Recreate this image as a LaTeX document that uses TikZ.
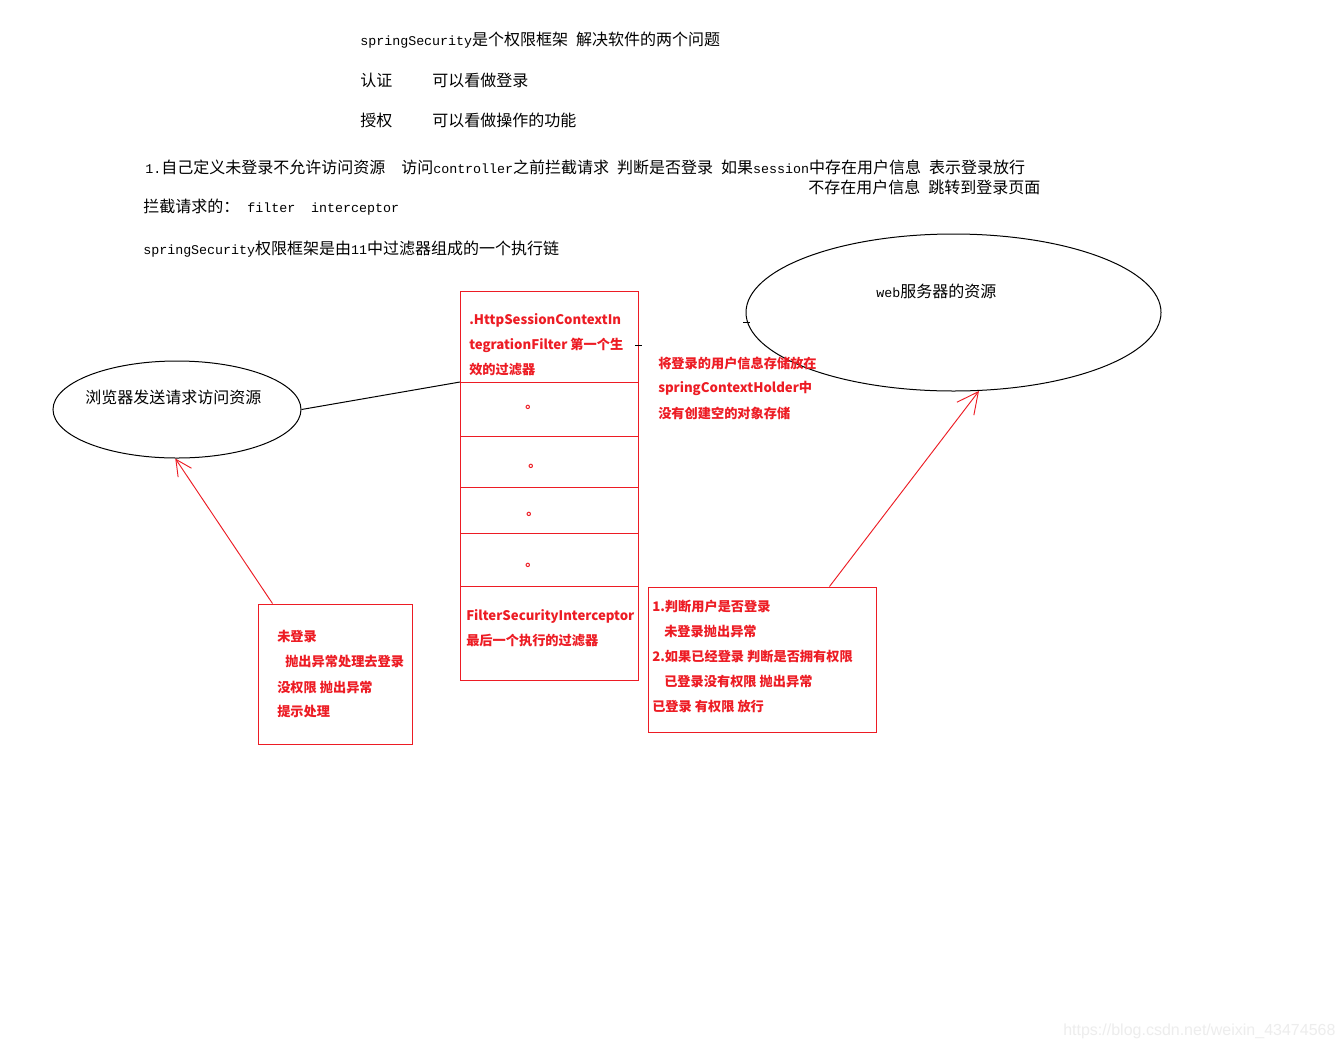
\documentclass[tikz,border=0pt]{standalone}
\usepackage{fontspec}
\setmainfont{Noto Sans CJK SC}
\newfontfamily\monolat[Scale=0.833]{Liberation Mono}
\newfontfamily\wmark{Liberation Sans}
\usetikzlibrary{shapes.geometric,positioning,arrows.meta}
\definecolor{pred}{HTML}{ED1C24}
\newcommand{\mtt}[1]{{\monolat #1}}
\tikzset{
  txt/.style={anchor=west,inner sep=0pt,font=\fontsize{12pt}{14pt}\selectfont},
  redtxt/.style={anchor=west,inner sep=0pt,text=pred,font=\fontsize{9.9pt}{12pt}\selectfont\bfseries},
  bubble/.style={draw,ellipse,inner sep=0pt,line width=0.75pt},
  filterbox/.style={draw=pred,line width=0.75pt,minimum width=133.5pt,minimum height=#1,inner sep=0pt,outer sep=0pt},
  notebox/.style={draw=pred,line width=0.75pt,inner sep=0pt},
  redarrow/.style={draw=pred,line width=0.7pt,-{Straight Barb[length=#1,width=#1]}},
}

\begin{document}
\begin{tikzpicture}[x=0.75pt,y=-0.75pt]
    \fill[white] (0,0) rectangle (1344,1050);
    \useasboundingbox (0,0) rectangle (1344,1050);
    % notes at the top
    \node[txt] (title) at (360,40) {\mtt{springSecurity}是个权限框架\mtt{~}解决软件的两个问题};
    \node[txt] (authn) at (360,80) {认证};
    \node[txt] (authnd) at (432,80) {可以看做登录};
    \node[txt] (authz) at (360,120) {授权};
    \node[txt] (authzd) at (432,120) {可以看做操作的功能};
    \node[txt] (rule) at (145,167) {\mtt{1.}自己定义未登录不允许访问资源\mtt{~~}访问\mtt{controller}之前拦截请求\mtt{~}判断是否登录\mtt{~}如果\mtt{session}中存在用户信息\mtt{~}表示登录放行};
    \node[txt] (rulenext) at (808,187) {不存在用户信息\mtt{~}跳转到登录页面};
    \node[txt] (intercept) at (143,207) {拦截请求的：\mtt{~filter~~interceptor}};
    \node[txt] (chaininfo) at (143,249) {\mtt{springSecurity}权限框架是由\mtt{11}中过滤器组成的一个执行链};
    % browser and server
    \node[bubble,minimum width=186pt,minimum height=72.75pt] (browser) at (177,409.5) {};
    \node[txt] (browsertxt) at (85,397) {浏览器发送请求访问资源};
    \node[bubble,minimum width=311.25pt,minimum height=117.75pt] (web) at (953.5,312.5) {};
    \node[txt] (webtxt) at (876,291) {\mtt{web}服务器的资源};
    % filter chain
    \node[filterbox=68.25pt,anchor=north] (f1) at (549,291) {};
    \node[filterbox=40.5pt,below=0pt of f1] (f2) {};
    \node[filterbox=38.25pt,below=0pt of f2] (f3) {};
    \node[filterbox=34.5pt,below=0pt of f3] (f4) {};
    \node[filterbox=39.75pt,below=0pt of f4] (f5) {};
    \node[filterbox=70.5pt,below=0pt of f5] (f6) {};
    \foreach \txt [count=\i from 0] in {.HttpSessionContextIn, tegrationFilter 第一个生, 效的过滤器}
        \node[redtxt] (f1t\i) at (469,320+25*\i) {\txt};
    \foreach \x/\y [count=\i] in {528/411, 531/470, 529/518, 528/569}
        \node[redtxt,anchor=center] (dot\i) at (\x+4,\y-4) {。};
    \foreach \txt [count=\i from 0] in {FilterSecurityInterceptor, 最后一个执行的过滤器}
        \node[redtxt] (f6t\i) at (466,616+25*\i) {\txt};
    \foreach \txt [count=\i from 0] in {将登录的用户信息存储放在, springContextHolder中, 没有创建空的对象存储}
        \node[redtxt] (store\i) at (658,363+25*\i) {\txt};
    % result boxes
    \node[notebox,minimum width=115.5pt,minimum height=105pt] (nologin) at (335,674) {};
    \foreach \dx/\txt [count=\i from 0] in {0/未登录, 8/抛出异常处理去登录, 0/没权限 抛出异常, 0/提示处理}
        \node[redtxt] (nologint\i) at (277+\dx,637+25*\i) {\txt};
    \node[notebox,minimum width=171pt,minimum height=108.75pt] (check) at (762,659.5) {};
    \foreach \dx/\txt [count=\i from 0] in {0/1.判断用户是否登录, 12/未登录抛出异常, 0/2.如果已经登录 判断是否拥有权限, 12/已登录没有权限 抛出异常, 0/已登录 有权限 放行}
        \node[redtxt] (checkt\i) at (652+\dx,606+25*\i) {\txt};
    % connectors
    \draw[line width=0.75pt] (browser.east) -- (f1.south west);
    \draw[redarrow=12pt] ([xshift=11.25pt]nologin.north west) -- (browser.-92);
    \draw[redarrow=16pt] ([xshift=136.5pt]check.north west) -- (web.-72.5);
    % small ticks
    \draw[line width=0.75pt] (635,345) -- (642,345);
    \draw[line width=0.75pt] (743,322) -- (750,322);
    \node[anchor=west,inner sep=0pt,text=black!7,font=\wmark\fontsize{12pt}{14pt}\selectfont] (mark) at (1063,1031) {https://blog.csdn.net/weixin\_43474568};
\end{tikzpicture}
\end{document}
